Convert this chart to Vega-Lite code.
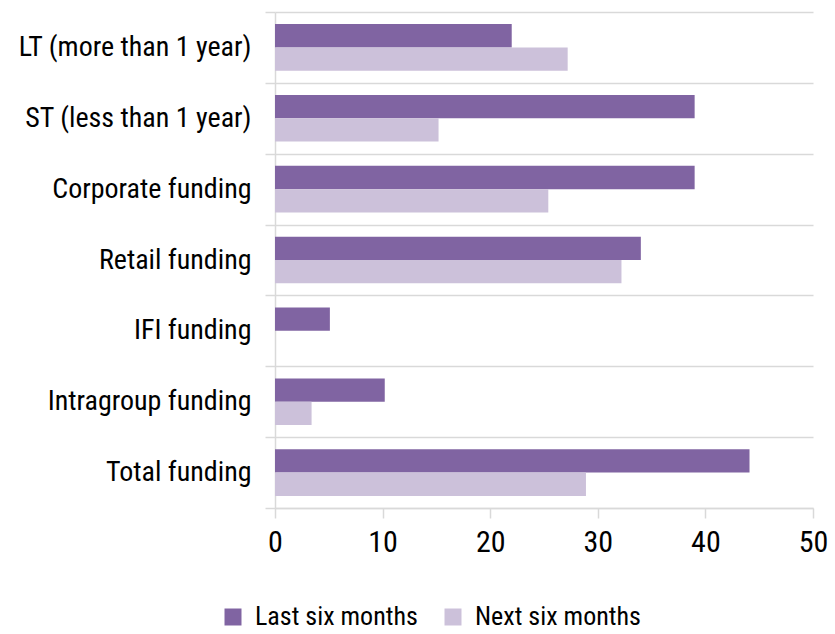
{
  "$schema": "https://vega.github.io/schema/vega-lite/v6.json",
  "width": 538,
  "height": 496,
  "autosize": {"type": "none"},
  "padding": {"left": 275, "top": 12, "right": 22, "bottom": 126},
  "background": "white",
  "config": {
    "view": {"stroke": null},
    "font": "Roboto Condensed, Liberation Sans"
  },
  "data": {
    "values": [
      {"category": "LT (more than 1 year)", "period": "Last six months", "value": 22.0},
      {"category": "LT (more than 1 year)", "period": "Next six months", "value": 27.2},
      {"category": "ST (less than 1 year)", "period": "Last six months", "value": 39.0},
      {"category": "ST (less than 1 year)", "period": "Next six months", "value": 15.2},
      {"category": "Corporate funding", "period": "Last six months", "value": 39.0},
      {"category": "Corporate funding", "period": "Next six months", "value": 25.4},
      {"category": "Retail funding", "period": "Last six months", "value": 34.0},
      {"category": "Retail funding", "period": "Next six months", "value": 32.2},
      {"category": "IFI funding", "period": "Last six months", "value": 5.1},
      {"category": "IFI funding", "period": "Next six months", "value": 0},
      {"category": "Intragroup funding", "period": "Last six months", "value": 10.2},
      {"category": "Intragroup funding", "period": "Next six months", "value": 3.4},
      {"category": "Total funding", "period": "Last six months", "value": 44.1},
      {"category": "Total funding", "period": "Next six months", "value": 28.9}
    ]
  },
  "mark": {"type": "bar"},
  "encoding": {
    "y": {
      "field": "category",
      "type": "nominal",
      "sort": null,
      "scale": {"paddingInner": 0, "paddingOuter": 0},
      "axis": {
        "title": null,
        "tickBand": "extent",
        "grid": true,
        "gridColor": "#D9D9D9",
        "gridWidth": 1.5,
        "tickColor": "#D9D9D9",
        "tickWidth": 1.5,
        "tickSize": 10,
        "domainColor": "#D9D9D9",
        "domainWidth": 1.5,
        "labelFontSize": 28,
        "labelColor": "#000000",
        "labelPadding": 14,
        "labelLimit": 300
      }
    },
    "yOffset": {
      "field": "period",
      "type": "nominal",
      "scale": {"paddingInner": 0, "paddingOuter": 0.52}
    },
    "x": {
      "field": "value",
      "type": "quantitative",
      "scale": {"domain": [0, 50], "nice": false},
      "axis": {
        "title": null,
        "values": [0, 10, 20, 30, 40, 50],
        "grid": false,
        "domainColor": "#D9D9D9",
        "domainWidth": 1.5,
        "tickColor": "#D9D9D9",
        "tickWidth": 1.5,
        "tickSize": 10,
        "labelFontSize": 30,
        "labelColor": "#000000",
        "labelPadding": 9,
        "labelFlush": false
      }
    },
    "color": {
      "field": "period",
      "type": "nominal",
      "scale": {"domain": ["Last six months", "Next six months"], "range": ["#8064A2", "#CCC1DA"]},
      "legend": {
        "title": null,
        "orient": "none",
        "direction": "horizontal",
        "legendX": -55,
        "legendY": 592,
        "symbolType": "square",
        "symbolSize": 289,
        "symbolStrokeWidth": 0,
        "labelFontSize": 26,
        "labelColor": "#000000",
        "labelLimit": 400,
        "columnPadding": 22,
        "labelOffset": 9
      }
    }
  }
}
